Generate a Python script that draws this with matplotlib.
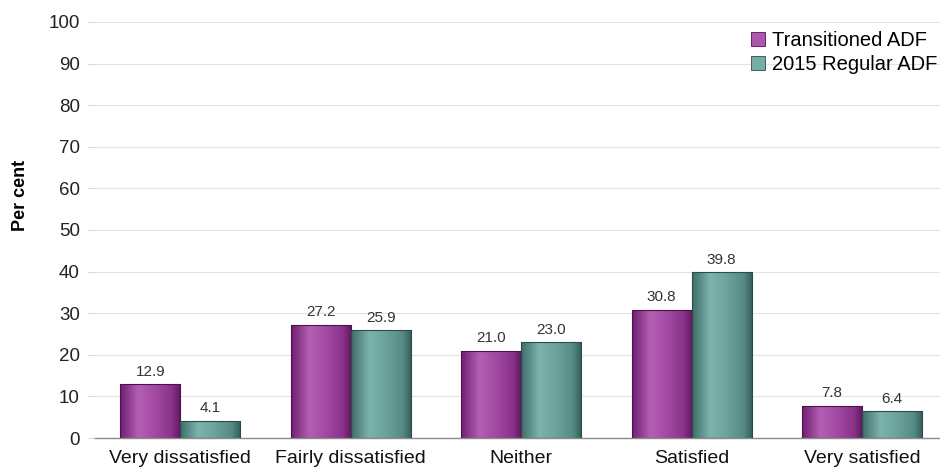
import numpy as np
import matplotlib
matplotlib.use("Agg")
import matplotlib.pyplot as plt
from matplotlib.colors import LinearSegmentedColormap
from matplotlib.patches import Rectangle
from matplotlib.legend_handler import HandlerBase

plt.rcParams['font.family'] = ['Liberation Sans', 'DejaVu Sans']

categories = ["Very dissatisfied", "Fairly dissatisfied", "Neither", "Satisfied", "Very satisfied"]
transitioned = [12.9, 27.2, 21.0, 30.8, 7.8]
regular_2015 = [4.1, 25.9, 23.0, 39.8, 6.4]
series_names = ["Transitioned ADF", "2015 Regular ADF"]
y_ticks = [0, 10, 20, 30, 40, 50, 60, 70, 80, 90, 100]

purple_cmap = LinearSegmentedColormap.from_list(
    "purple_shade", [(0.0, "#6e1f6e"), (0.3, "#b35fb3"), (0.55, "#a54ba5"), (0.85, "#8a338a"), (1.0, "#5e175e")])
teal_cmap = LinearSegmentedColormap.from_list(
    "teal_shade", [(0.0, "#3f6d69"), (0.3, "#7db3ad"), (0.55, "#6ea49e"), (0.85, "#558a85"), (1.0, "#345c58")])

fig = plt.figure(figsize=(9.4, 4.69), dpi=100)
ax = fig.add_axes([95 / 940, 31 / 469, 845 / 940, 416 / 469])

x = np.arange(len(categories))
w = 0.352
grad = np.linspace(0, 1, 256).reshape(1, -1)


def shade(bars, cmap, edge):
    for b in bars:
        b.set_facecolor("none")
        b.set_edgecolor(edge)
        b.set_linewidth(0.8)
        x0, y0 = b.get_x(), b.get_y()
        bw, bh = b.get_width(), b.get_height()
        im = ax.imshow(grad, cmap=cmap, aspect="auto", extent=[x0, x0 + bw, y0, y0 + bh],
                       zorder=2, interpolation="bicubic")
        im.set_clip_path(b)


b1 = ax.bar(x - w / 2, transitioned, w, zorder=3)
b2 = ax.bar(x + w / 2, regular_2015, w, zorder=3)
shade(b1, purple_cmap, "#4d124d")
shade(b2, teal_cmap, "#2c4c49")

for bars, vals in ((b1, transitioned), (b2, regular_2015)):
    for b, v in zip(bars, vals):
        ax.annotate(f"{v:.1f}", (b.get_x() + b.get_width() / 2, v), xytext=(0, 4),
                    textcoords="offset points", ha="center", va="bottom",
                    fontsize=11, color="#333333")

ax.set_xlim(-0.5, 4.457)
ax.set_ylim(0, 100)
ax.set_yticks(y_ticks)
ax.set_xticks(x)
ax.set_xticklabels(categories, fontsize=14, color="#111111")
ax.tick_params(axis="x", length=0, pad=8.5)
ax.tick_params(axis="y", length=5, color="#d9d9d9", labelsize=13.5, labelcolor="#222222", pad=6)
ax.yaxis.grid(True, color="#e3e3e3", linewidth=0.8, zorder=0)
ax.set_axisbelow(True)
for s in ("top", "right", "left"):
    ax.spines[s].set_visible(False)
ax.spines["bottom"].set_color("#8c8c8c")
ax.spines["bottom"].set_linewidth(1.0)
ax.set_ylabel("Per cent", fontsize=13, fontweight="bold")
ax.yaxis.set_label_coords(-0.078, 0.584)


class GradientSquare(HandlerBase):
    def __init__(self, cmap, edge):
        super().__init__()
        self.cmap, self.edge = cmap, edge

    def create_artists(self, legend, orig_handle, xdescent, ydescent, width, height, fontsize, trans):
        size = height * 1.0
        x0 = xdescent + width - size
        r = Rectangle((x0, -ydescent - 0.5), size, size, facecolor=self.cmap(0.4),
                      edgecolor=self.edge, linewidth=0.6, transform=trans)
        return [r]


leg = ax.legend([b1, b2], series_names, loc="upper right", bbox_to_anchor=(1.011, 1.008),
                frameon=False, fontsize=14.5, handlelength=0.75, handletextpad=0.35,
                labelspacing=0.25, borderaxespad=0.2,
                handler_map={b1: GradientSquare(purple_cmap, "#4d124d"),
                             b2: GradientSquare(teal_cmap, "#2c4c49")})

fig.savefig("out.png", dpi=100)
